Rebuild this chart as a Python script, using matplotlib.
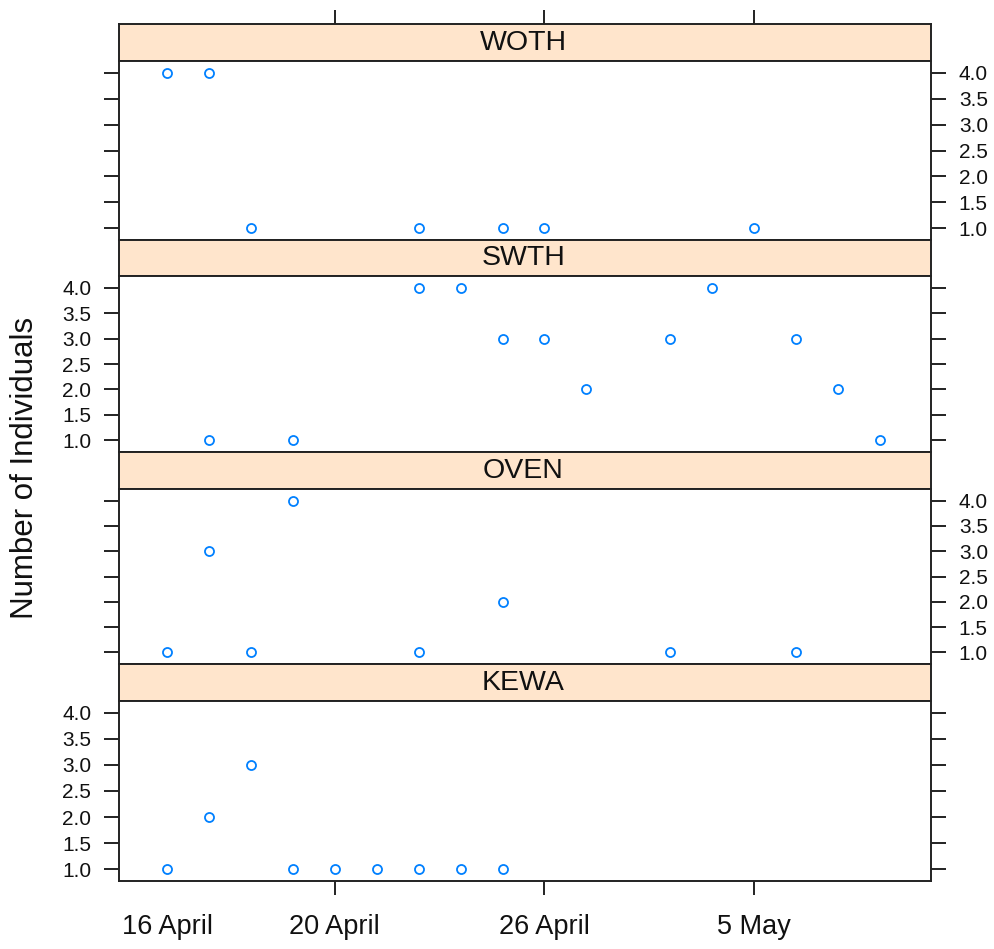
import matplotlib

matplotlib.use("Agg")
import matplotlib.pyplot as plt

# sampling day index (1..18) and counts per species
woth_day = [1, 2, 3, 7, 9, 10, 15]
woth_n = [4, 4, 1, 1, 1, 1, 1]
swth_day = [2, 4, 7, 8, 9, 10, 11, 13, 14, 16, 17, 18]
swth_n = [1, 1, 4, 4, 3, 3, 2, 3, 4, 3, 2, 1]
oven_day = [1, 2, 3, 4, 7, 9, 13, 16]
oven_n = [1, 3, 1, 4, 1, 2, 1, 1]
kewa_day = [1, 2, 3, 4, 5, 6, 7, 8, 9]
kewa_n = [1, 2, 3, 1, 1, 1, 1, 1, 1]

species = ["WOTH", "SWTH", "OVEN", "KEWA"]
days = [woth_day, swth_day, oven_day, kewa_day]
counts = [woth_n, swth_n, oven_n, kewa_n]

date_pos = [1, 5, 10, 15]
date_labels = ["16 April", "20 April", "26 April", "5 May"]
yticks = [1.0, 1.5, 2.0, 2.5, 3.0, 3.5, 4.0]

W, H = 995, 949
# (strip top, panel top, panel bottom) in pixels
rows = [(24, 61, 240), (240, 276, 452), (452, 489, 664), (664, 701, 881)]
x0, x1 = 119, 931

strip_col = "#FFE5CC"
pt_col = "#0080FF"
line_col = "#222222"
txt_col = "#111111"
font = "Liberation Sans"

fig = plt.figure(figsize=(W / 100, H / 100), dpi=100)


def px_box(top, bottom):
    return [x0 / W, 1 - bottom / H, (x1 - x0) / W, (bottom - top) / H]


xlim = (-0.145, 19.216)

for i, (name, d, n) in enumerate(zip(species, days, counts)):
    s_top, p_top, p_bot = rows[i]

    # strip
    sax = fig.add_axes(px_box(s_top, p_top))
    sax.set_facecolor(strip_col)
    sax.set_xlim(xlim)
    sax.set_ylim(0, 1)
    sax.set_yticks([])
    sax.text(9.5, 0.5, name, ha="center", va="center", fontsize=20.5,
             family=font, color=txt_col)
    for sp in sax.spines.values():
        sp.set_linewidth(1.4)
        sp.set_color(line_col)
    if i == 0:
        sax.xaxis.tick_top()
        sax.set_xticks(date_pos[1:])
        sax.set_xticklabels([])
        sax.tick_params(axis="x", length=10, width=1.4, color=line_col)
    else:
        sax.set_xticks([])

    # panel
    ax = fig.add_axes(px_box(p_top, p_bot))
    ax.plot(d, n, "o", ms=6.5, mfc="none", mec=pt_col, mew=1.3)
    ax.set_xlim(xlim)
    ax.set_ylim(0.77, 4.23)
    ax.set_yticks(yticks)
    ax.set_yticklabels([f"{v:.1f}" for v in yticks])
    ax.tick_params(axis="y", left=True, right=True, length=11, width=1.4,
                   color=line_col, labelsize=15, pad=9)
    if i % 2 == 0:
        ax.tick_params(axis="y", labelleft=False, labelright=True)
    else:
        ax.tick_params(axis="y", labelleft=True, labelright=False)
    for lab in ax.get_yticklabels():
        lab.set_family(font)
        lab.set_color(txt_col)
    for sp in ax.spines.values():
        sp.set_linewidth(1.4)
        sp.set_color(line_col)

    if i == 3:
        ax.set_xticks(date_pos)
        ax.set_xticklabels(date_labels)
        ax.tick_params(axis="x", length=10, width=1.4, color=line_col,
                       labelsize=19.5, pad=14)
        for lab in ax.get_xticklabels():
            lab.set_family(font)
            lab.set_color(txt_col)
        ax.xaxis.get_major_ticks()[0].tick1line.set_visible(False)
    else:
        ax.set_xticks([])

fig.text(25 / W, 1 - 468 / H, "Number of Individuals", rotation=90,
         ha="center", va="center", fontsize=22.5, family=font,
         color=txt_col)

fig.savefig("out.png", dpi=100, facecolor="white")
